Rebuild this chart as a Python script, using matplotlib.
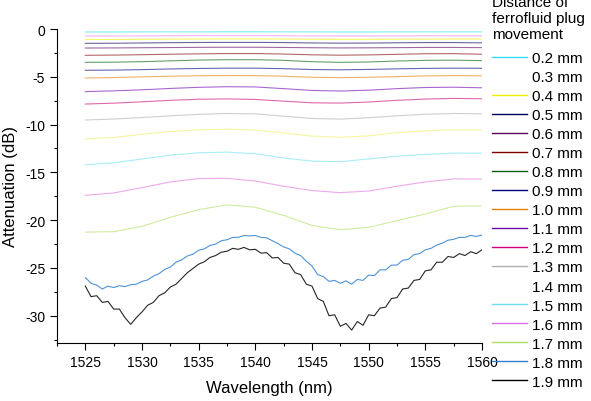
import numpy as np
import matplotlib
matplotlib.use("Agg")
import matplotlib.pyplot as plt
from matplotlib.ticker import MultipleLocator

plt.rcParams['font.family'] = ['Liberation Sans', 'DejaVu Sans']
plt.rcParams['axes.unicode_minus'] = False

# smooth spectra, read every 2.5 nm
wl = [1525, 1527.5, 1530, 1532.5, 1535, 1537.5, 1540, 1542.5,
      1545, 1547.5, 1550, 1552.5, 1555, 1557.5, 1560]

att_02 = [-0.31, -0.31, -0.30, -0.30, -0.30, -0.29, -0.29, -0.30, -0.30, -0.31, -0.31, -0.30, -0.30, -0.30, -0.30]
att_03 = [-0.73, -0.73, -0.72, -0.71, -0.70, -0.70, -0.70, -0.71, -0.72, -0.73, -0.73, -0.72, -0.71, -0.71, -0.71]
att_04 = [-1.10, -1.09, -1.08, -1.06, -1.05, -1.04, -1.04, -1.05, -1.07, -1.08, -1.08, -1.07, -1.06, -1.05, -1.05]
att_05 = [-1.50, -1.49, -1.46, -1.43, -1.41, -1.40, -1.40, -1.42, -1.46, -1.48, -1.47, -1.44, -1.42, -1.42, -1.45]
att_06 = [-1.99, -1.98, -1.96, -1.94, -1.92, -1.91, -1.91, -1.93, -1.96, -1.98, -1.97, -1.95, -1.93, -1.93, -1.95]
att_07 = [-2.75, -2.73, -2.69, -2.64, -2.60, -2.57, -2.57, -2.62, -2.70, -2.74, -2.71, -2.65, -2.59, -2.58, -2.64]
att_08 = [-3.49, -3.47, -3.42, -3.33, -3.25, -3.21, -3.21, -3.28, -3.42, -3.49, -3.45, -3.35, -3.28, -3.26, -3.31]
att_09 = [-4.32, -4.30, -4.25, -4.18, -4.13, -4.10, -4.10, -4.15, -4.24, -4.27, -4.23, -4.17, -4.12, -4.10, -4.11]
att_10 = [-5.13, -5.08, -5.01, -4.94, -4.89, -4.87, -4.88, -4.94, -5.05, -5.09, -5.05, -4.98, -4.91, -4.88, -4.90]
att_11 = [-6.55, -6.47, -6.36, -6.22, -6.10, -6.04, -6.06, -6.24, -6.43, -6.49, -6.40, -6.24, -6.12, -6.09, -6.15]
att_12 = [-7.85, -7.76, -7.62, -7.46, -7.35, -7.31, -7.37, -7.55, -7.72, -7.75, -7.64, -7.46, -7.33, -7.26, -7.30]
att_13 = [-9.52, -9.42, -9.26, -9.08, -8.93, -8.84, -8.88, -9.12, -9.36, -9.43, -9.28, -9.08, -8.92, -8.84, -8.87]
att_14 = [-11.50, -11.35, -11.02, -10.72, -10.55, -10.47, -10.58, -10.88, -11.20, -11.33, -11.18, -10.85, -10.65, -10.54, -10.57]
att_15 = [-14.20, -14.00, -13.60, -13.20, -12.95, -12.88, -13.05, -13.50, -13.82, -13.88, -13.60, -13.30, -13.12, -12.98, -13.00]
att_16 = [-17.40, -17.15, -16.60, -16.00, -15.65, -15.62, -15.90, -16.45, -16.90, -17.12, -16.95, -16.45, -16.00, -15.68, -15.70]
att_17 = [-21.25, -21.20, -20.65, -19.70, -18.90, -18.40, -18.65, -19.50, -20.55, -21.00, -20.75, -20.05, -19.35, -18.55, -18.50]

# noisy spectra, read every 0.5 nm
wl_fine = [1525 + 0.5 * i for i in range(71)]
att_18 = [-26.0, -26.6, -26.8, -27.2, -26.9, -27.05, -26.85, -26.95, -26.75, -26.7,
          -26.4, -26.25, -25.85, -25.6, -25.15, -24.9, -24.4, -24.15, -23.75, -23.55,
          -23.15, -23.0, -22.65, -22.5, -22.15, -22.05, -21.8, -21.8, -21.6, -21.65,
          -21.6, -21.8, -21.85, -22.15, -22.45, -22.8, -23.0, -23.45, -23.7, -24.3,
          -24.8, -25.7, -25.9, -26.4, -26.3, -26.6, -26.35, -26.7, -26.2, -26.3,
          -25.75, -25.8, -25.2, -25.2, -24.7, -24.7, -24.2, -24.1, -23.6, -23.5,
          -23.1, -22.95, -22.6, -22.4, -22.1, -22.0, -21.8, -21.8, -21.6, -21.7,
          -21.55]
att_19 = [-26.9, -28.0, -27.9, -28.6, -28.5, -29.3, -29.3, -30.2, -30.9, -30.2,
          -29.6, -28.9, -28.6, -27.9, -27.6, -27.0, -26.7, -26.1, -25.5, -25.05,
          -24.6, -24.35, -23.9, -23.7, -23.35, -23.25, -22.95, -23.05, -22.85, -23.1,
          -23.05, -23.45, -23.4, -23.95, -23.9, -24.5, -24.6, -25.5, -25.7, -26.7,
          -26.9, -28.2, -28.5, -30.0, -29.9, -31.1, -30.8, -31.5, -30.6, -31.0,
          -29.9, -30.0, -29.2, -29.1, -28.2, -28.1, -27.2, -27.1, -26.3, -26.2,
          -25.3, -25.2, -24.4, -24.4, -23.8, -23.9, -23.5, -23.7, -23.3, -23.5,
          -23.1]

labels = ['0.2 mm', '0.3 mm', '0.4 mm', '0.5 mm', '0.6 mm', '0.7 mm', '0.8 mm',
          '0.9 mm', '1.0 mm', '1.1 mm', '1.2 mm', '1.3 mm', '1.4 mm', '1.5 mm',
          '1.6 mm', '1.7 mm', '1.8 mm', '1.9 mm']
series = [att_02, att_03, att_04, att_05, att_06, att_07, att_08, att_09, att_10,
          att_11, att_12, att_13, att_14, att_15, att_16, att_17, att_18, att_19]
colors = ['#30e0f0', '#f080f0', '#f0f000', '#000060', '#600060', '#800000',
          '#006000', '#000080', '#e08000', '#7000b0', '#d0007a', '#b0b0b0',
          '#f0f060', '#70e0f0', '#e070e0', '#b0e060', '#3080d0', '#000000']

fig = plt.figure(figsize=(5.91, 4.02), dpi=100)
ax = fig.add_axes([57 / 591, 1 - 344 / 402, (482 - 57) / 591, (344 - 30) / 402])

for i, (y, lab, c) in enumerate(zip(series, labels, colors)):
    x = wl_fine if len(y) == len(wl_fine) else wl
    a = 0.85 if i >= 16 else 0.6
    ax.plot(x, y, color=c, lw=0.8, alpha=a, label=lab)

ax.set_xlim(1522.5, 1560)
ax.set_ylim(-32.85, 0)
ax.xaxis.set_major_locator(MultipleLocator(5))
ax.xaxis.set_minor_locator(MultipleLocator(2.5))
ax.yaxis.set_major_locator(MultipleLocator(5))
ax.yaxis.set_minor_locator(MultipleLocator(2.5))
ax.tick_params(which='major', direction='out', length=5, width=0.8, labelsize=10)
ax.tick_params(which='minor', direction='out', length=2.5, width=0.8)
ax.spines['top'].set_visible(False)
ax.spines['right'].set_visible(False)
ax.set_xlabel('Wavelength (nm)', fontsize=12, labelpad=8)
ax.set_ylabel('Attenuation (dB)', fontsize=12, labelpad=5)

fig.text(492 / 591, 1.011, 'Distance of\nferrofluid plug\nmovement',
         fontsize=11, va='top', ha='left', linespacing=1.2)
leg = ax.legend(loc='upper left', bbox_to_anchor=(492 / 591, 1 - 52 / 402),
                bbox_transform=fig.transFigure, frameon=False, fontsize=11,
                borderpad=0, borderaxespad=0, labelspacing=0.33,
                handlelength=2.3, handletextpad=0.35)
for i, h in enumerate(leg.legend_handles):
    h.set_alpha(1)
    h.set_linewidth(1.0)
    if i in (1, 12):
        h.set_color('white')

fig.savefig('out.png', dpi=100)
